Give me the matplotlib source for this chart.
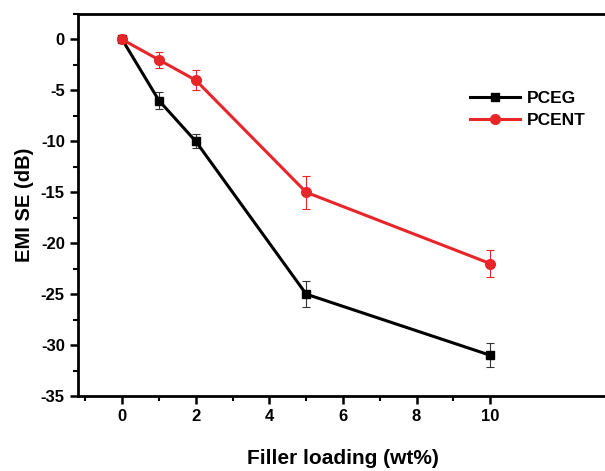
import matplotlib.pyplot as plt
from matplotlib.ticker import MultipleLocator, FixedLocator

loading = [0, 1, 2, 5, 10]
pceg = [0, -6, -10, -25, -31]
pceg_err = [0, 0.8, 0.7, 1.3, 1.2]
pcent = [0, -2, -4, -15, -22]
pcent_err = [0, 0.8, 1.0, 1.6, 1.3]

plt.rcParams['font.family'] = ['Liberation Sans', 'DejaVu Sans']
plt.rcParams['font.weight'] = 'bold'
plt.rcParams['axes.unicode_minus'] = False

fig = plt.figure(figsize=(6.05, 4.71), dpi=100)
ax = fig.add_axes([78 / 605, 75 / 471, (608 - 78) / 605, (396 - 14) / 471])

ax.errorbar(loading, pceg, yerr=pceg_err, color='black', marker='s', markersize=6,
            linewidth=2.2, capsize=3, elinewidth=0.8, capthick=0.8, ecolor='#333333',
            label='PCEG', zorder=3)
ax.errorbar(loading, pcent, yerr=pcent_err, color='#e8262a', marker='o', markersize=7,
            linewidth=2.2, capsize=3, elinewidth=0.8, capthick=0.8, ecolor='#e8262a',
            label='PCENT', zorder=3)

ax.set_xlim(-1.2, 13.2)
ax.set_ylim(-35, 2.5)
ax.set_xticks([0, 2, 4, 6, 8, 10])
ax.xaxis.set_minor_locator(FixedLocator([-1, 1, 3, 5, 7, 9]))
ax.yaxis.set_major_locator(MultipleLocator(5))
ax.yaxis.set_minor_locator(MultipleLocator(2.5))
ax.tick_params(which='major', direction='out', length=6, width=1.8, labelsize=12)
ax.tick_params(which='minor', direction='out', length=3.5, width=1.5)
ax.tick_params(top=False, right=False)
for side in ['left', 'bottom', 'top']:
    ax.spines[side].set_linewidth(2)
ax.spines['right'].set_visible(False)

ax.set_xlabel('Filler loading (wt%)', fontsize=15, fontweight='bold', labelpad=18)
ax.set_ylabel('EMI SE (dB)', fontsize=14.5, fontweight='bold', labelpad=5)

handles, labels = ax.get_legend_handles_labels()
handles = [h[0] for h in handles]
ax.legend(handles, labels, loc='upper left', bbox_to_anchor=(0.71, 0.84), frameon=False,
          handlelength=2.9, handletextpad=0.4, labelspacing=0.4,
          prop={'weight': 'bold', 'size': 12.5})

fig.savefig('out.png', dpi=100)
